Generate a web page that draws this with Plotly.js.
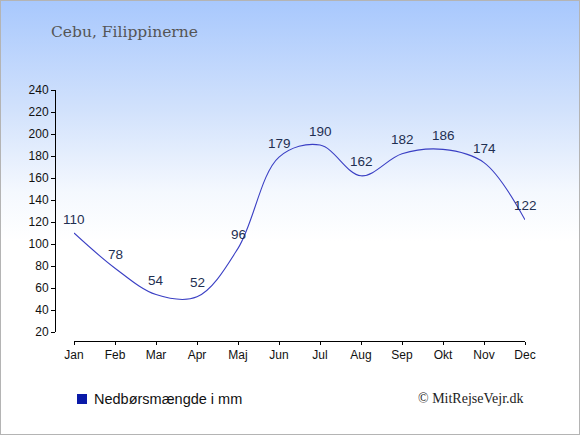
<!DOCTYPE html>
<html>
<head>
<meta charset="utf-8">
<script src="https://cdn.plot.ly/plotly-3.0.1.min.js"></script>
<style>
html,body{margin:0;padding:0;background:#fff;}
#wrap{position:relative;width:580px;height:435px;box-sizing:border-box;border:1px solid #b4b4b4;
background:linear-gradient(to bottom,#a8c8fd 0px,#d2e2fc 110px,#f4f8fe 190px,#ffffff 240px,#ffffff 435px);}
#chart{position:absolute;left:-1px;top:-1px;width:580px;height:435px;}
</style>
</head>
<body>
<div id="wrap"><div id="chart"></div></div>
<script>
var months = ["Jan","Feb","Mar","Apr","Maj","Jun","Jul","Aug","Sep","Okt","Nov","Dec"];
var rainfall = [110,78,54,52,96,179,190,162,182,186,174,122];
var yTicks = [20,40,60,80,100,120,140,160,180,200,220,240];
var titleText = "Cebu, Filippinerne";
var legendText = "Nedbørsmængde i mm";
var creditText = "© MitRejseVejr.dk";

var W = 580, H = 435;
var L = 55, R = 55, T = 90, B = 94;
var pw = W - L - R, ph = H - T - B;
function px(x){ return (x - L) / pw; }
function py(y){ return (H - B - y) / ph; }

var xIdx = months.map(function(m,i){return i;});

var trace = {
  x: xIdx,
  y: rainfall,
  mode: "lines",
  line: {color: "#3a3fc4", width: 1.1, shape: "spline", smoothing: 1},
  hoverinfo: "none",
  showlegend: false
};

var valueLabels = rainfall.map(function(v,i){
  return {
    text: String(v), x: xIdx[i], y: v, xref: "x", yref: "y",
    xanchor: "center", yanchor: "middle", yshift: 14,
    showarrow: false,
    font: {family: "Liberation Sans, Arial, sans-serif", size: 13.5, color: "#1f2f52"}
  };
});

var layout = {
  width: W, height: H,
  margin: {l: L, r: R, t: T, b: B, pad: 0},
  paper_bgcolor: "rgba(0,0,0,0)",
  plot_bgcolor: "rgba(0,0,0,0)",
  showlegend: false,
  font: {family: "Liberation Sans, Arial, sans-serif", size: 12, color: "#111"},
  xaxis: {
    domain: [px(74), px(525)],
    range: [0, months.length - 1],
    tickvals: xIdx,
    ticktext: months,
    anchor: "free", position: 0,
    showline: true, linecolor: "#000", linewidth: 1,
    ticks: "outside", ticklen: 3, tickcolor: "#000",
    showgrid: false, zeroline: false, fixedrange: true,
    tickfont: {size: 12, color: "#111"}
  },
  yaxis: {
    domain: [py(332), 1],
    range: [20, 240],
    tickvals: yTicks,
    anchor: "free", position: 0,
    showline: true, linecolor: "#000", linewidth: 1,
    ticks: "outside", ticklen: 4, tickcolor: "#000",
    showgrid: false, zeroline: false, fixedrange: true,
    tickfont: {size: 12, color: "#111"}
  },
  title: {
    text: titleText,
    font: {family: "DejaVu Serif, serif", size: 15.5, color: "#555"},
    x: 51 / W, xanchor: "left", xref: "container",
    y: 1 - 32 / H, yanchor: "middle", yref: "container"
  },
  shapes: [{
    type: "rect", xref: "paper", yref: "paper",
    x0: px(77), x1: px(87), y0: py(404), y1: py(394),
    fillcolor: "#0a1aa8", line: {width: 0}
  }],
  annotations: valueLabels.concat([{
    text: legendText, xref: "paper", yref: "paper",
    x: px(92), y: py(399), xanchor: "left", yanchor: "middle",
    showarrow: false,
    font: {family: "Liberation Sans, Arial, sans-serif", size: 14.5, color: "#111"}
  },{
    text: creditText, xref: "paper", yref: "paper",
    x: px(526), y: py(398), xanchor: "right", yanchor: "middle",
    showarrow: false,
    font: {family: "Liberation Serif, Times New Roman, serif", size: 14, color: "#222"}
  }])
};

Plotly.newPlot("chart", [trace], layout, {displayModeBar: false, staticPlot: true});
</script>
</body>
</html>
